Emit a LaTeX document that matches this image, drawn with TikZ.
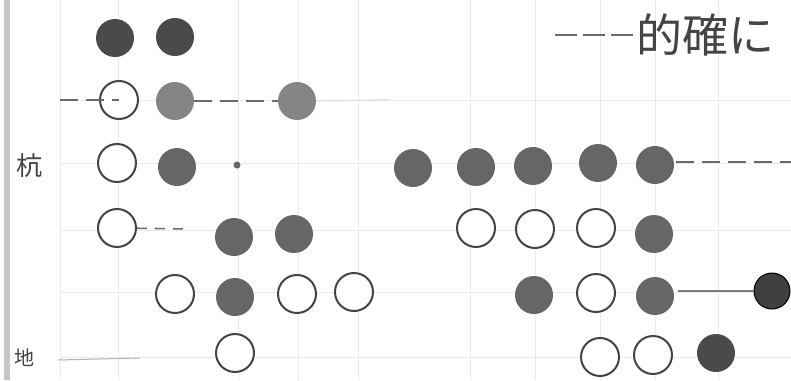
\documentclass[tikz,border=0pt]{standalone}
\usepackage{fontspec}
\newfontfamily\cjk{Noto Sans CJK JP}
\definecolor{dk}{HTML}{4A4A4A}
\definecolor{md}{HTML}{666666}
\definecolor{lt}{HTML}{858585}
\definecolor{ol}{HTML}{444444}
\definecolor{gr}{HTML}{EBEBEB}
\begin{document}
\begin{tikzpicture}[x=1pt,y=-1pt,
  stone/.style={circle,minimum size=38pt,inner sep=0pt},
  dkstone/.style={stone,fill=dk},
  mdstone/.style={stone,fill=md},
  ltstone/.style={stone,fill=lt},
  open/.style={stone,draw=ol,line width=2pt,fill=white},
  guide/.style={gr,line width=1pt},
  dashln/.style={ol!80,line width=1.6pt,dash pattern=on 18pt off 8pt},
  lbl/.style={font=\cjk,text=ol,inner sep=0pt}]
\useasboundingbox (0,0) rectangle (791,380);
\fill[white] (0,0) rectangle (791,380);
% scan edge
\fill[gray!45] (4,0) rectangle (10,380);
% faint grid
\foreach \x in {60,118,238,298,358,470,535,600,655,718}
  \draw[guide] (\x,0) -- (\x,380);
\foreach \y in {100,163,230,292,357}
  \draw[guide] (60,\y) -- (791,\y);
% row 1
\node[dkstone] (a1) at (115,38) {};
\node[dkstone] (a2) at (175,37) {};
% row 2
\coordinate (b0) at (60,100);
\node[open] (b1) at (119,100) {};
\node[ltstone] (b2) at (175,101) {};
\node[ltstone] (b3) at (297,101) {};
% row 3
\node[open] (c1) at (117,163) {};
\node[mdstone] (c2) at (177,167) {};
\node[fill=md,circle,inner sep=2.5pt] (c3) at (237,165) {};
\node[mdstone] (c4) at (413,168) {};
\node[mdstone] (c5) at (476,167) {};
\node[mdstone] (c6) at (533,166) {};
\node[mdstone] (c7) at (598,163) {};
\node[mdstone] (c8) at (655,165) {};
\coordinate (c9) at (791,162);
\coordinate (c8e) at (676,162);
% row 4
\node[open] (d1) at (117,228) {};
\node[mdstone] (d2) at (234,237) {};
\node[mdstone] (d3) at (294,234) {};
\node[open] (d4) at (476,228) {};
\node[open] (d5) at (535,229) {};
\node[open] (d6) at (596,228) {};
\node[mdstone] (d7) at (654,234) {};
% row 5
\node[open] (e1) at (175,294) {};
\node[mdstone] (e2) at (235,297) {};
\node[open] (e3) at (297,294) {};
\node[open] (e4) at (354,292) {};
\node[mdstone] (e5) at (534,295) {};
\node[open] (e6) at (596,293) {};
\node[mdstone] (e7) at (655,296) {};
\node[stone,fill=black!75,draw=black,line width=1pt,minimum size=36pt] (e8) at (772,291) {};
\coordinate (e7e) at (678,291);
% row 6
\node[open] (f1) at (235,353) {};
\node[open] (f2) at (600,357) {};
\node[open] (f3) at (653,355) {};
\node[dkstone] (f4) at (716,353) {};
% labels
\node[lbl,font=\cjk\fontsize{26}{26}\selectfont,anchor=west] (t1) at (16,166) {杭};
\node[lbl,font=\cjk\fontsize{20}{20}\selectfont,anchor=west] (t2) at (14,358) {地};
\coordinate (t2e) at (58,360);
\coordinate (t2f) at (140,358);
\node[lbl,font=\cjk\fontsize{46}{46}\selectfont,anchor=west] (t3) at (636,35) {的確に};
\coordinate (t3s) at (555,35);
% connectors
\draw[dashln] (b0) -- (b1.center) ;
\draw[dashln] (b2) -- (b3);
\draw[guide,line width=1.4pt,gray!25] (b3) -- (390,100);
\draw[dashln] (c8e) -- (c9);
\draw[dashln,dash pattern=on 10pt off 8pt] (d1) -- (190,229);
\draw[ol!70,line width=1.2pt] (e7e) -- (e8);
\draw[gray!60,line width=1pt] (t2e) -- (t2f);
\draw[dashln,dash pattern=on 22pt off 6pt] (t3s) -- (t3);
\end{tikzpicture}
\end{document}
